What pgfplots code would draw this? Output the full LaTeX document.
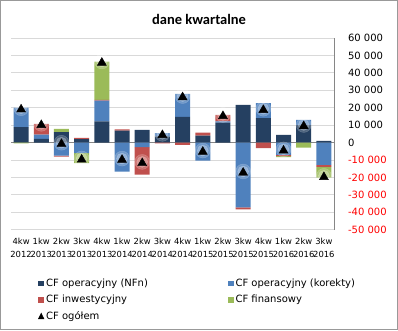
\documentclass[border=0pt]{standalone}
\usepackage{pgfplots}
\pgfplotsset{compat=1.18}
\usepackage{pgfplotstable}
\usepackage{fontspec}
\setmainfont{DejaVu Sans}
\newfontfamily\titlefont{Carlito}
\definecolor{cdark}{HTML}{254061}
\definecolor{clb}{HTML}{4F81BD}
\definecolor{cred}{HTML}{C0504D}
\definecolor{cgreen}{HTML}{9BBB59}
\definecolor{cgrid}{HTML}{D9D9D9}
\definecolor{caxis}{HTML}{868686}

% positive parts of each series
\pgfplotstableread{
x dark kor inv fin
0 8850 11250 0 0
1 2100 2500 6150 0
2 6000 0 0 1900
3 2000 0 700 0
4 12100 11900 500 22000
5 6900 0 600 0
6 7300 0 0 0
7 3500 1900 0 0
8 14800 13200 0 0
9 4000 0 1750 0
10 11500 600 3800 0
11 21700 0 0 0
12 14000 8650 0 0
13 4400 0 0 0
14 10000 3000 0 0
15 1000 0 0 0
}\pos
% negative parts of each series
\pgfplotstableread{
x dark kor inv fin
0 0 0 0 -400
1 0 0 0 0
2 0 -7500 -500 0
3 0 -6100 0 -5700
4 0 0 0 0
5 0 -16700 0 0
6 0 -2650 -15750 0
7 0 0 -400 0
8 0 0 -1300 0
9 0 -10350 0 0
10 0 0 0 0
11 0 -37150 -1150 0
12 0 0 -3250 0
13 0 -7000 -800 -500
14 0 0 0 -2900
15 0 -12800 -1200 -6100
}\neg
% CF ogolem
\pgfplotstableread{
x total
0 19700
1 10750
2 -100
3 -9100
4 46500
5 -9200
6 -11100
7 5000
8 26700
9 -4600
10 15900
11 -16600
12 19400
13 -3900
14 10100
15 -19100
}\tot

\pgfplotsset{common/.style={
  width=323pt, height=191.7pt, scale only axis,
  at={(11pt,100.3pt)}, anchor=south west,
  xmin=-0.5, xmax=15.5, ymin=-50000, ymax=60000,
  bar width=15pt,
}}

\begin{document}
\begin{tikzpicture}[x=1pt,y=1pt]
\draw[black!40, line width=1pt] (0.5,0.5) rectangle (397.5,329.5);
\node[font=\titlefont\bfseries\fontsize{14.5}{16}\selectfont, anchor=base] at (199,305) {dane kwartalne};

\begin{axis}[common, ybar stacked,
  axis y line*=right, axis x line*=bottom,
  x axis line style={draw=none},
  y axis line style={draw=caxis},
  major tick length=0pt,
  scaled y ticks=false,
  ymajorgrids, grid style={draw=cgrid, line width=0.8pt},
  ytick={-50000,-40000,-30000,-20000,-10000,0,10000,20000,30000,40000,50000,60000},
  yticklabels={{\color{red}-50 000},{\color{red}-40 000},{\color{red}-30 000},{\color{red}-20 000},{\color{red}-10 000},0,10 000,20 000,30 000,40 000,50 000,60 000},
  yticklabel style={anchor=west, xshift=10.5pt, font=\fontsize{10}{11}\selectfont},
  extra y ticks={0}, extra y tick labels={},
  extra y tick style={grid style={draw=caxis, line width=0.9pt}},
  xtick={0,1,...,15},
  xticklabels={4kw\\2012,1kw\\2013,2kw\\2013,3kw\\2013,4kw\\2013,1kw\\2014,2kw\\2014,3kw\\2014,4kw\\2014,1kw\\2015,2kw\\2015,3kw\\2015,4kw\\2015,1kw\\2016,2kw\\2016,3kw\\2016},
  xticklabel style={align=center, font=\fontsize{8.4}{12.7}\selectfont, yshift=-5pt},
  legend columns=2,
  legend cell align=left,
  legend style={at={(0.0743,-0.236)}, anchor=north west, draw=none, fill=none,
    font=\fontsize{10}{12}\selectfont, row sep=3pt,
    /tikz/every even column/.append style={column sep=78pt}},
  legend image code/.code={\fill[#1] (0pt,-2.8pt) rectangle (5.6pt,2.8pt);},
]
\addplot[draw=none, fill=cdark] table[x=x, y=dark] {\pos};
\addplot[draw=none, fill=clb] table[x=x, y=kor] {\pos};
\addplot[draw=none, fill=cred] table[x=x, y=inv] {\pos};
\addplot[draw=none, fill=cgreen] table[x=x, y=fin] {\pos};
\addlegendentry{CF operacyjny (NFn)}
\addlegendentry{CF operacyjny (korekty)}
\addlegendentry{CF inwestycyjny}
\addlegendentry{CF finansowy}
\addlegendimage{legend image code/.code={\fill[black] (0pt,-2.8pt) -- (5.6pt,-2.8pt) -- (2.8pt,3pt) -- cycle;}}
\addlegendentry{CF ogółem}
\end{axis}

\begin{axis}[common, ybar stacked, hide axis]
\addplot[draw=none, fill=cdark] table[x=x, y=dark] {\neg};
\addplot[draw=none, fill=clb] table[x=x, y=kor] {\neg};
\addplot[draw=none, fill=cred] table[x=x, y=inv] {\neg};
\addplot[draw=none, fill=cgreen] table[x=x, y=fin] {\neg};
\end{axis}

\begin{axis}[common, hide axis]
\addplot[only marks, white, opacity=0.2, mark=*, mark size=7.5pt] table[x=x, y=total] {\tot};
\addplot[only marks, white, opacity=0.25, mark=*, mark size=5.5pt] table[x=x, y=total] {\tot};
\addplot[only marks, black, mark=triangle*, mark size=5.2pt, mark options={yshift=-1.2pt}] table[x=x, y=total] {\tot};
\end{axis}
\end{tikzpicture}
\end{document}
